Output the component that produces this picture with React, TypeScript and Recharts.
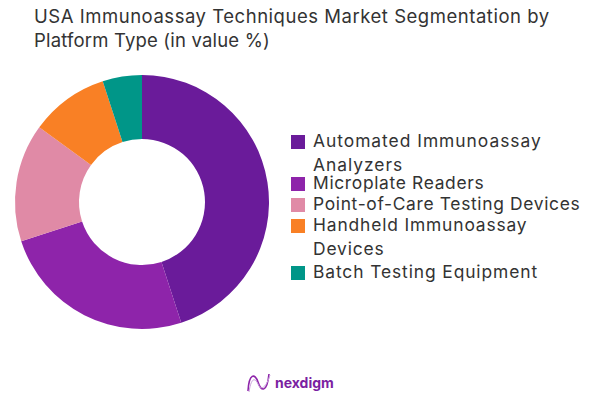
import React from "react";
import { PieChart, Pie, Cell, Legend } from "recharts";

const categories = [
  "Automated Immunoassay Analyzers",
  "Microplate Readers",
  "Point-of-Care Testing Devices",
  "Handheld Immunoassay Devices",
  "Batch Testing Equipment",
];
const values = [45, 25, 15, 10, 5];
const colors = ["#6a1b9a", "#8e24aa", "#e08aa6", "#f98025", "#009688"];
const titleLines = [
  "USA Immunoassay Techniques Market Segmentation by",
  "Platform Type (in value %)",
];
const brand = "nexdigm";

const data = categories.map((name, i) => ({ name, value: values[i] }));
const FONT = "Inter, 'Open Sans', sans-serif";
const TEXT = "#333333";
const legendLineBreaks: Record<string, string[]> = {
  "Automated Immunoassay Analyzers": ["Automated Immunoassay", "Analyzers"],
  "Handheld Immunoassay Devices": ["Handheld Immunoassay", "Devices"],
};
const legendCentres = [142, 184, 205, 226, 273];
const legendSpacing = [0.98, 0.67, 0.67, 0.85, 0.9];
const titleSpacing = [0.53, 0.18];

function LegendContent({ payload }: any) {
  return (
    <div style={{ position: "relative", width: 600, height: 405 }}>
      {(payload || []).map((p: any, i: number) => {
        const lines = legendLineBreaks[p.value] || [p.value];
        return (
          <div key={p.value}>
            <div
              style={{
                position: "absolute",
                left: 291,
                top: legendCentres[i] - 7,
                width: 14,
                height: 14,
                background: p.color,
              }}
            />
            {lines.map((l: string, j: number) => (
              <div
                key={l}
                style={{
                  position: "absolute",
                  left: 313,
                  top: legendCentres[i] - 10 + j * 24,
                  height: 18,
                  lineHeight: "18px",
                  fontFamily: FONT,
                  fontSize: 17.4,
                  letterSpacing: legendSpacing[i],
                  color: TEXT,
                  whiteSpace: "nowrap",
                }}
              >
                {l}
              </div>
            ))}
          </div>
        );
      })}
    </div>
  );
}

export default function App() {
  return (
    <div style={{ position: "absolute", left: 0, top: 0, width: 600, height: 405, background: "#fff", overflow: "hidden" }}>
      <PieChart width={600} height={405} margin={{ top: 0, right: 0, bottom: 0, left: 0 }}>
        <Pie
          data={data}
          dataKey="value"
          nameKey="name"
          cx={142}
          cy={202}
          outerRadius={127}
          innerRadius={63}
          startAngle={90}
          endAngle={-270}
          stroke="none"
          isAnimationActive={false}
        >
          {data.map((d, i) => (
            <Cell key={d.name} fill={colors[i]} />
          ))}
        </Pie>
        <Legend
          itemSorter={null}
          content={<LegendContent />}
          wrapperStyle={{ left: 0, top: 0, width: 600, height: 405 }}
        />
      </PieChart>
      <div
        style={{
          position: "absolute",
          left: 34,
          top: 5,
          fontFamily: FONT,
          fontSize: 18.5,
          lineHeight: "23.5px",
          color: TEXT,
          whiteSpace: "nowrap",
        }}
      >
        {titleLines.map((t, i) => (
          <div key={t} style={{ letterSpacing: titleSpacing[i] }}>{t}</div>
        ))}
      </div>
      <svg style={{ position: "absolute", left: 246, top: 371 }} width={26} height={24} viewBox="0 0 26 24">
        <path d="M2 20 C3 2 9 2 12 11 C15 21 21 22 23 3" fill="none" stroke="#8e24aa" strokeWidth={1.6} />
        <path d="M3 21 C5 7 9 6 12 13 C15 20 20 17 24 4" fill="none" stroke="#c9a0dc" strokeWidth={1} />
      </svg>
      <div
        style={{
          position: "absolute",
          left: 275,
          top: 374,
          fontFamily: FONT,
          fontSize: 14,
          fontWeight: 700,
          lineHeight: "18px",
          color: "#7b1fa2",
        }}
      >
        {brand}
      </div>
    </div>
  );
}
